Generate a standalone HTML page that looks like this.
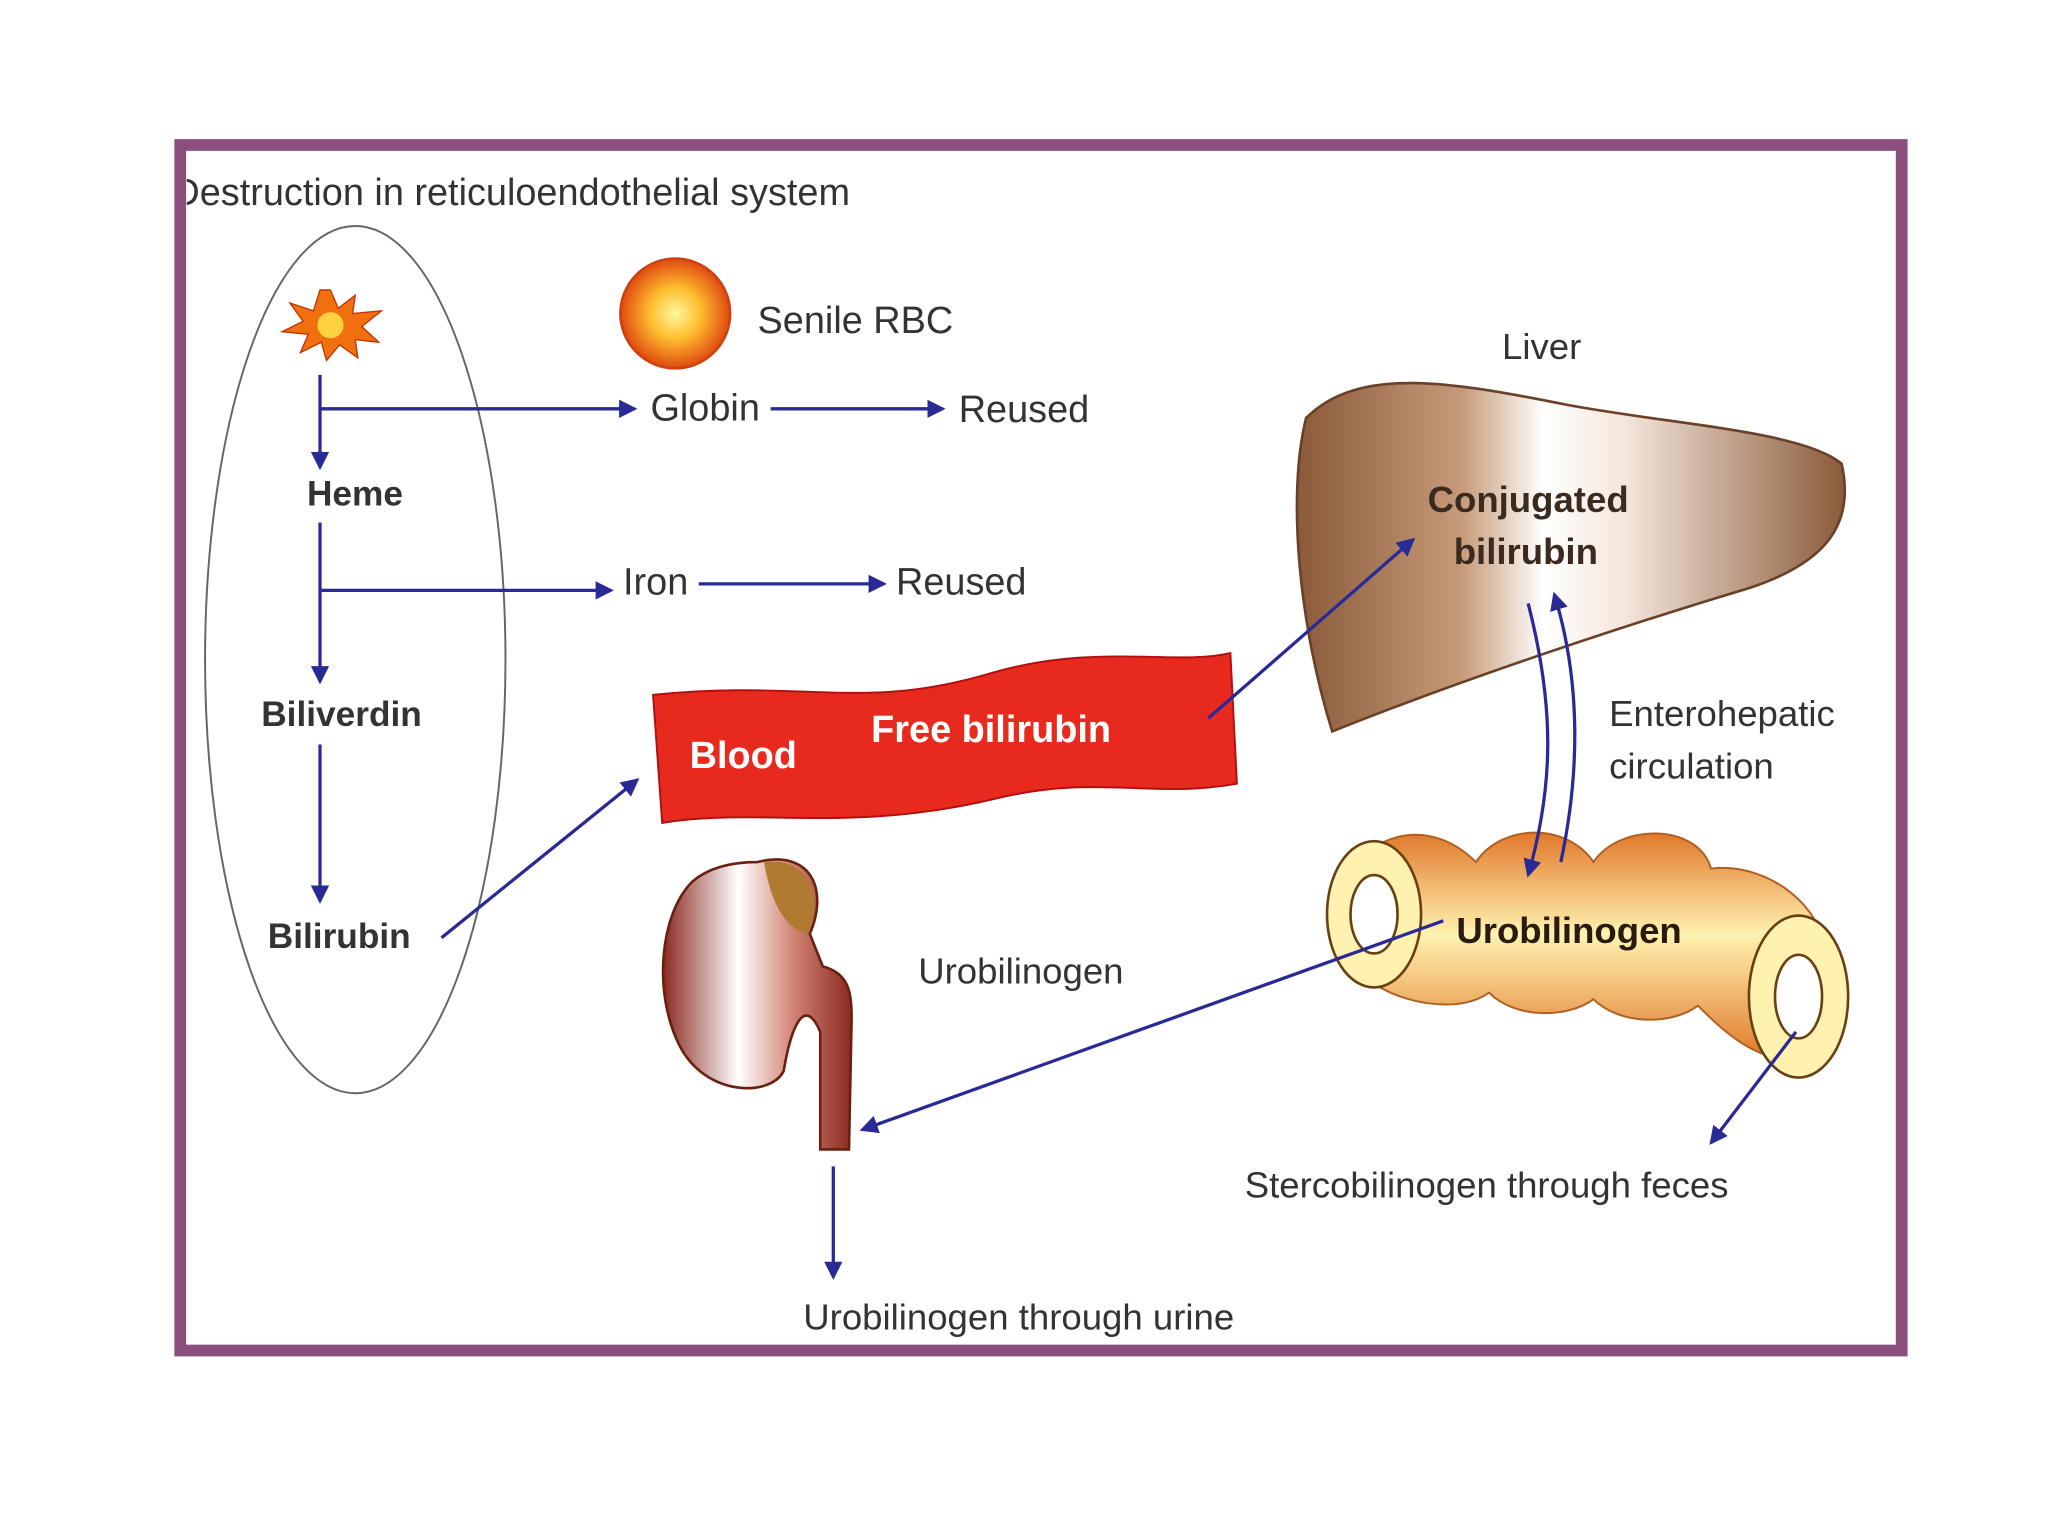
<!DOCTYPE html>
<html><head><meta charset="utf-8"><style>
html,body{margin:0;padding:0;background:#fff;}
svg{display:block;}
text{font-family:"Liberation Sans",sans-serif;}
</style></head><body>
<svg width="2048" height="1536" viewBox="0 0 1568 1176" xmlns="http://www.w3.org/2000/svg">
<defs>
<marker id="a" markerWidth="14" markerHeight="14" refX="12" refY="7" orient="auto" markerUnits="userSpaceOnUse" viewBox="0 0 14 14">
<path d="M0,0 L14,7 L0,14 z" fill="#2a2a96"/></marker>
<radialGradient id="rbc" cx="50%" cy="50%" r="50%"><stop offset="0" stop-color="#fff7a0"/><stop offset="0.45" stop-color="#ffc030"/><stop offset="1" stop-color="#e04a10"/></radialGradient>
<linearGradient id="liver" x1="0" x2="1" y1="0" y2="0"><stop offset="0" stop-color="#8a5a3a"/><stop offset="0.3" stop-color="#c69a78"/><stop offset="0.45" stop-color="#fff"/><stop offset="0.6" stop-color="#f4e6da"/><stop offset="1" stop-color="#8a5a3a"/></linearGradient>
<linearGradient id="gut" x1="0" x2="0" y1="0" y2="1"><stop offset="0" stop-color="#e0782a"/><stop offset="0.45" stop-color="#fff2b0"/><stop offset="1" stop-color="#e0782a"/></linearGradient>
<linearGradient id="kid" x1="0" x2="1"><stop offset="0" stop-color="#8a2a20"/><stop offset="0.4" stop-color="#fff"/><stop offset="0.7" stop-color="#d08070"/><stop offset="1" stop-color="#8a2a20"/></linearGradient>
<clipPath id="fr"><rect x="143" y="116" width="1308" height="913"/></clipPath>
</defs>
<rect x="138" y="111" width="1318" height="923" fill="#fff" stroke="#8a4f7d" stroke-width="9"/>
<g clip-path="url(#fr)">
<text x="132" y="157" font-size="29" fill="#333">Destruction in reticuloendothelial system</text>
</g>
<ellipse cx="272" cy="505" rx="115" ry="332" fill="none" stroke="#666" stroke-width="1.5"/>
<polygon points="253,222 259,236 272,226 270,240 292,238 277,250 290,262 272,260 274,274 260,264 250,276 246,262 230,270 236,256 216,254 232,246 222,232 240,238 245,222" fill="#f07010" stroke="#c03000" stroke-width="1"/>
<circle cx="253" cy="249" r="10" fill="#ffd040"/>
<circle cx="517" cy="240" r="42" fill="url(#rbc)" stroke="#d04010" stroke-width="2"/>
<text x="580" y="255" font-size="29" fill="#333">Senile RBC</text>
<text x="498" y="322" font-size="29" fill="#333">Globin</text>
<text x="734" y="323" font-size="29" fill="#333">Reused</text>
<text x="235" y="387" font-size="27" fill="#333" font-weight="bold">Heme</text>
<text x="477" y="455" font-size="29" fill="#333">Iron</text>
<text x="686" y="455" font-size="29" fill="#333">Reused</text>
<text x="200" y="556" font-size="27" fill="#333" font-weight="bold">Biliverdin</text>
<text x="205" y="726" font-size="27" fill="#333" font-weight="bold">Bilirubin</text>
<path d="M500,532 C620,520 660,545 760,515 C840,492 900,510 942,500 L947,600 C880,612 840,592 760,612 C650,638 580,618 507,630 Z" fill="#e82a1e" stroke="#b01010" stroke-width="1.5"/>
<text x="528" y="588" font-size="29" fill="#fff" font-weight="bold">Blood</text>
<text x="667" y="568" font-size="29" fill="#fff" font-weight="bold">Free bilirubin</text>
<text x="1150" y="275" font-size="28" fill="#333">Liver</text>
<path d="M1000,320 C1040,280 1110,292 1200,310 C1280,325 1380,330 1410,355 C1420,400 1400,430 1340,450 C1240,480 1120,520 1020,560 C995,480 985,380 1000,320 Z" fill="url(#liver)" stroke="#6a4028" stroke-width="2"/>
<text x="1093" y="392" font-size="28" fill="#3a2a20" font-weight="bold">Conjugated</text>
<text x="1113" y="432" font-size="28" fill="#3a2a20" font-weight="bold">bilirubin</text>
<text x="1232" y="556" font-size="28" fill="#333">Enterohepatic</text>
<text x="1232" y="596" font-size="28" fill="#333">circulation</text>
<path d="M1050,650 C1080,630 1110,640 1130,660 C1150,630 1200,630 1220,660 C1240,630 1300,630 1310,665 C1350,660 1390,690 1395,720 L1400,800 C1360,830 1320,790 1300,770 C1280,785 1240,785 1220,765 C1200,780 1160,780 1140,760 C1120,775 1080,770 1055,755 Z" fill="url(#gut)" stroke="#b06020" stroke-width="1.5"/>
<ellipse cx="1052" cy="700" rx="36" ry="56" fill="#fff2b0" stroke="#6a4010" stroke-width="2"/>
<ellipse cx="1052" cy="700" rx="18" ry="30" fill="#fff" stroke="#6a4010" stroke-width="2"/>
<ellipse cx="1377" cy="763" rx="38" ry="62" fill="#fff2b0" stroke="#6a4010" stroke-width="2"/>
<ellipse cx="1377" cy="763" rx="18" ry="32" fill="#fff" stroke="#6a4010" stroke-width="2"/>
<text x="1115" y="722" font-size="28" fill="#2a1a10" font-weight="bold">Urobilinogen</text>
<path d="M580,660 C620,650 635,680 620,715 L630,740 C650,745 652,760 652,780 L650,880 L628,880 L628,790 C615,760 605,790 600,820 C590,840 540,840 520,800 C500,760 505,700 530,675 C545,662 565,660 580,660 Z" fill="url(#kid)" stroke="#6a2010" stroke-width="2"/>
<path d="M585,660 C620,655 632,690 618,715 C600,710 590,690 585,660 Z" fill="#b07a30"/>
<text x="703" y="753" font-size="28" fill="#333">Urobilinogen</text>
<text x="953" y="917" font-size="28" fill="#333">Stercobilinogen through feces</text>
<text x="615" y="1018" font-size="28" fill="#333">Urobilinogen through urine</text>
<g stroke="#2a2a96" stroke-width="2.5" fill="none">
<line x1="245" y1="287" x2="245" y2="358" marker-end="url(#a)"/>
<line x1="245" y1="313" x2="486" y2="313" marker-end="url(#a)"/>
<line x1="590" y1="313" x2="722" y2="313" marker-end="url(#a)"/>
<line x1="245" y1="400" x2="245" y2="522" marker-end="url(#a)"/>
<line x1="245" y1="452" x2="468" y2="452" marker-end="url(#a)"/>
<line x1="535" y1="447" x2="677" y2="447" marker-end="url(#a)"/>
<line x1="245" y1="570" x2="245" y2="690" marker-end="url(#a)"/>
<line x1="338" y1="718" x2="488" y2="597" marker-end="url(#a)"/>
<line x1="925" y1="550" x2="1082" y2="413" marker-end="url(#a)"/>
<line x1="1105" y1="705" x2="660" y2="865" marker-end="url(#a)"/>
<line x1="1375" y1="790" x2="1310" y2="875" marker-end="url(#a)"/>
<line x1="638" y1="893" x2="638" y2="978" marker-end="url(#a)"/>
<path d="M1170,462 C1190,540 1190,600 1170,670" marker-end="url(#a)"/>
<path d="M1195,660 C1210,590 1210,520 1190,455" marker-end="url(#a)"/>
</g>
</svg>
</body></html>
